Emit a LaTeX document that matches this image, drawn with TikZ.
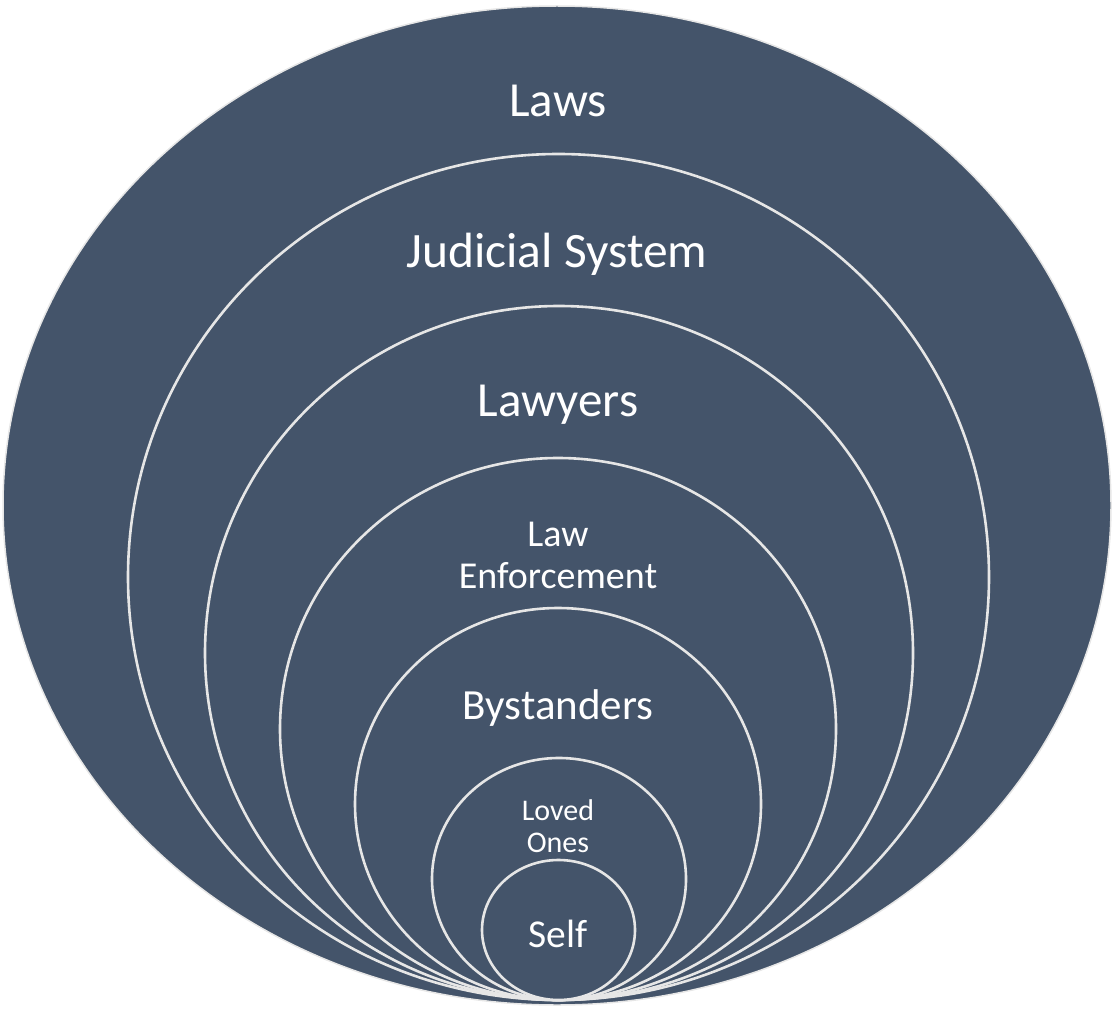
\documentclass[tikz,border=0pt]{standalone}
\usepackage{fontspec}
\setmainfont{Carlito}
\definecolor{slate}{HTML}{44546A}
\definecolor{rim}{HTML}{E6E6E6}
\tikzset{
  ring/.style={draw=rim, line width=2.6pt, fill=slate},
  label/.style={text=white, anchor=base, inner sep=0pt, align=center}
}
\begin{document}
\begin{tikzpicture}[x=1pt,y=-1pt]
    \useasboundingbox (0,0) rectangle (1113,1011);
    % outer ellipse
    \draw[fill=slate, draw=rim, line width=1.5pt] (557,505.5) ellipse [x radius=554, y radius=499.5];
    % inner rings, all touching at the bottom
    \draw[ring] (558.5,577) ellipse [x radius=430.5, y radius=423];
    \draw[ring] (559,653) ellipse [x radius=354, y radius=347];
    \draw[ring] (558,729) ellipse [x radius=278, y radius=271];
    \draw[ring] (558,804) ellipse [x radius=203, y radius=196];
    \draw[ring] (559,879) ellipse [x radius=127, y radius=121];
    \draw[ring] (558.5,930) ellipse [x radius=76.5, y radius=70];
    % labels (base = last line)
    \node[label, font=\fontsize{49}{52}\selectfont] (laws) at (558,117) {Laws};
    \node[label, font=\fontsize{49.5}{52}\selectfont] (judicial) at (557,267) {Judicial System};
    \node[label, font=\fontsize{49}{52}\selectfont] (lawyers) at (558,416) {Lawyers};
    \node[label, font=\fontsize{38}{42}\selectfont] (enforce) at (558,588) {Law\\Enforcement};
    \node[label, font=\fontsize{43}{46}\selectfont] (bystand) at (558,719) {Bystanders};
    \node[label, font=\fontsize{30}{32}\selectfont] (loved) at (558,852) {Loved\\Ones};
    \node[label, font=\fontsize{39.5}{42}\selectfont] (self) at (558,947) {Self};
\end{tikzpicture}
\end{document}
